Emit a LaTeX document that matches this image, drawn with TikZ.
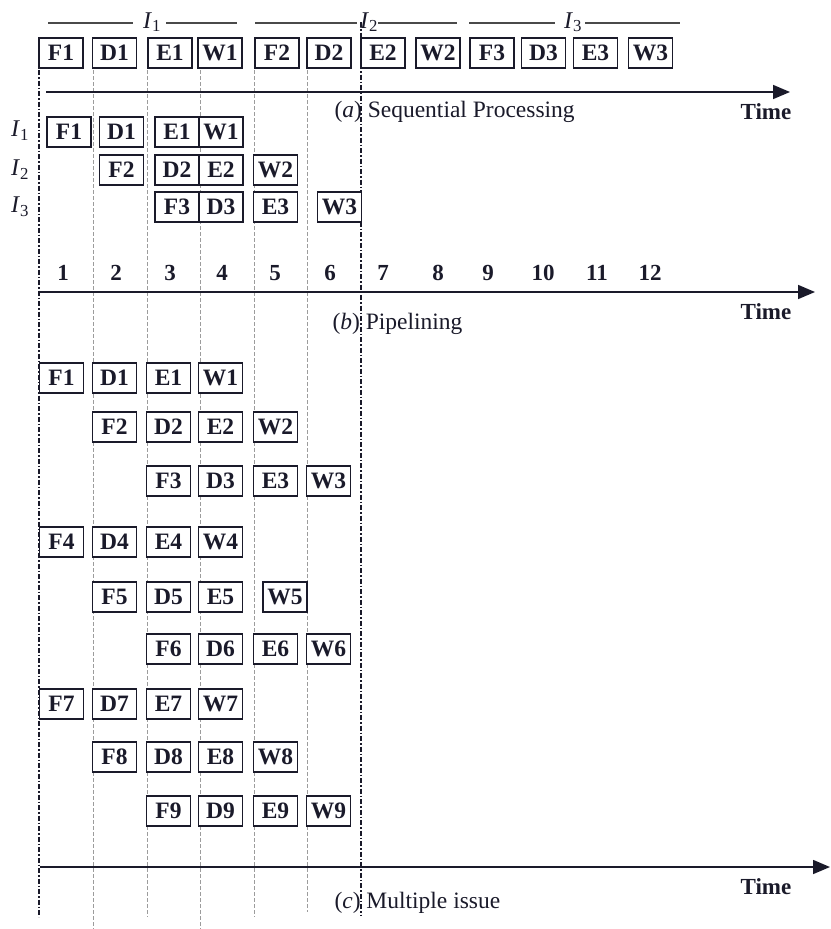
\documentclass[tikz,border=0pt]{standalone}
\usepackage{fontspec}
\setmainfont{Liberation Serif}
\usetikzlibrary{arrows.meta}
\definecolor{Ink}{HTML}{1A1A2A}
\definecolor{GridGray}{HTML}{9C9C9C}
\definecolor{RuleGray}{HTML}{4A4A4A}

\tikzset{
  stagebox/.style={draw=Ink,fill=white,line width=1.2pt,minimum width=44pt,
    minimum height=30pt,inner sep=0pt,text=Ink,font=\fontsize{23.5}{25}\selectfont\bfseries},
  gridline/.style={GridGray,line width=1pt,dash pattern=on 4pt off 2pt},
  edgeline/.style={Ink,line width=1.1pt,dash pattern=on 5pt off 2pt on 1.5pt off 2pt},
  timeaxis/.style={Ink,line width=1.6pt,-{Triangle[length=17pt,width=14pt]}},
  cycle num/.style={font=\fontsize{23}{25}\selectfont\bfseries,text=Ink},
  caption/.style={anchor=west,font=\fontsize{23.5}{25}\selectfont,text=Ink},
  timelabel/.style={font=\fontsize{23}{25}\selectfont\bfseries,text=Ink},
  instr/.style={font=\fontsize{24}{26}\selectfont,text=Ink,inner sep=1pt},
}

\begin{document}
\begin{tikzpicture}[x=1pt,y=-1pt]
  \useasboundingbox (0,0) rectangle (830,929);

  % clock-cycle boundaries
  \foreach \i/\x/\yt/\yb/\sty in {0/39/70/917/edgeline,1/93/70/929/gridline,
    2/147/70/917/gridline,3/200/70/929/gridline,4/254/70/917/gridline,
    5/307/70/912/gridline,6/361/22/915/edgeline}
  {
    \coordinate (gt\i) at (\x,\yt);
    \coordinate (gb\i) at (\x,\yb);
    \draw[\sty] (gt\i) -- (gb\i);
  }

  % (a) sequential processing
  \foreach \n/\lab/\x/\segL/\segR/\segRR/\segRRR in {
    1/1/152/48/133/166/237,2/2/369/255/357/378/457,3/3/573/469/555/585/680}
  {
    \node[instr,anchor=base] (ia\n) at (\x,28) {\textit{I}\textsubscript{\lab}};
    \coordinate (ial\n) at (\segL,23);
    \coordinate (iam\n) at (\segR,23);
    \coordinate (ian\n) at (\segRR,23);
    \coordinate (iar\n) at (\segRRR,23);
    \draw[RuleGray,line width=1.1pt] (ial\n) -- (iam\n);
    \draw[RuleGray,line width=1.1pt] (ian\n) -- (iar\n);
  }
  \foreach \lab/\x in {F1/61,D1/114.5,E1/170,W1/220,F2/277,D2/329,
    E2/383,W2/438,F3/492,D3/543.5,E3/595.5,W3/650.5}
    \node[stagebox] (sa\lab) at (\x,53) {\lab};
  \coordinate (axaL) at (46,92);
  \coordinate (axaR) at (790,92);
  \draw[timeaxis] (axaL) -- (axaR);
  \node[timelabel] (timea) at (766,112) {Time};
  \node[caption] (capa) at (331,112) {(\textit{a})~Sequential Processing};

  % (b) pipelining
  \foreach \n/\y in {1/131,2/170,3/207}
    \node[instr] (ib\n) at (20,\y) {\textit{I}\textsubscript{\n}};
  \foreach \lab/\x/\y in {F1/69/132,D1/121.5/132,E1/177/132,W1/221/132,
    F2/121.5/170,D2/177/170,E2/221/170,W2/275.5/170,
    F3/177/207,D3/221/207,E3/275.5/207,W3/339.5/207}
    \node[stagebox] (pb\lab) at (\x,\y) {\lab};
  \foreach \c/\x in {1/63,2/116,3/170,4/222,5/275,6/330,7/383,8/438,
    9/488,10/543,11/597,12/650}
    \node[cycle num] (cyc\c) at (\x,273) {\c};
  \coordinate (axbL) at (40,292);
  \coordinate (axbR) at (815,292);
  \draw[timeaxis] (axbL) -- (axbR);
  \node[timelabel] (timeb) at (766,312) {Time};
  \node[caption] (capb) at (329,324) {(\textit{b})~Pipelining};

  % (c) multiple issue
  \foreach \n/\y/\xf/\xd/\xe/\xw in {
    1/378/61.5/114.5/168.5/220.5,2/427/114.5/168.5/220.5/275.5,
    3/481/168.5/220.5/275.5/328.5,4/542/61.5/114.5/168.5/220.5,
    5/597/114.5/168.5/220.5/285,6/649/168.5/220.5/275.5/328.5,
    7/704/61.5/114.5/168.5/220.5,8/757/114.5/168.5/220.5/275.5,
    9/811/168.5/220.5/275.5/328.5}
  {
    \node[stagebox] (mcF\n) at (\xf,\y) {F\n};
    \node[stagebox] (mcD\n) at (\xd,\y) {D\n};
    \node[stagebox] (mcE\n) at (\xe,\y) {E\n};
    \node[stagebox] (mcW\n) at (\xw,\y) {W\n};
  }
  \coordinate (axcL) at (40,867);
  \coordinate (axcR) at (830,867);
  \draw[timeaxis] (axcL) -- (axcR);
  \node[timelabel] (timec) at (766,887) {Time};
  \node[caption] (capc) at (331,903) {(\textit{c})~Multiple issue};
\end{tikzpicture}
\end{document}
